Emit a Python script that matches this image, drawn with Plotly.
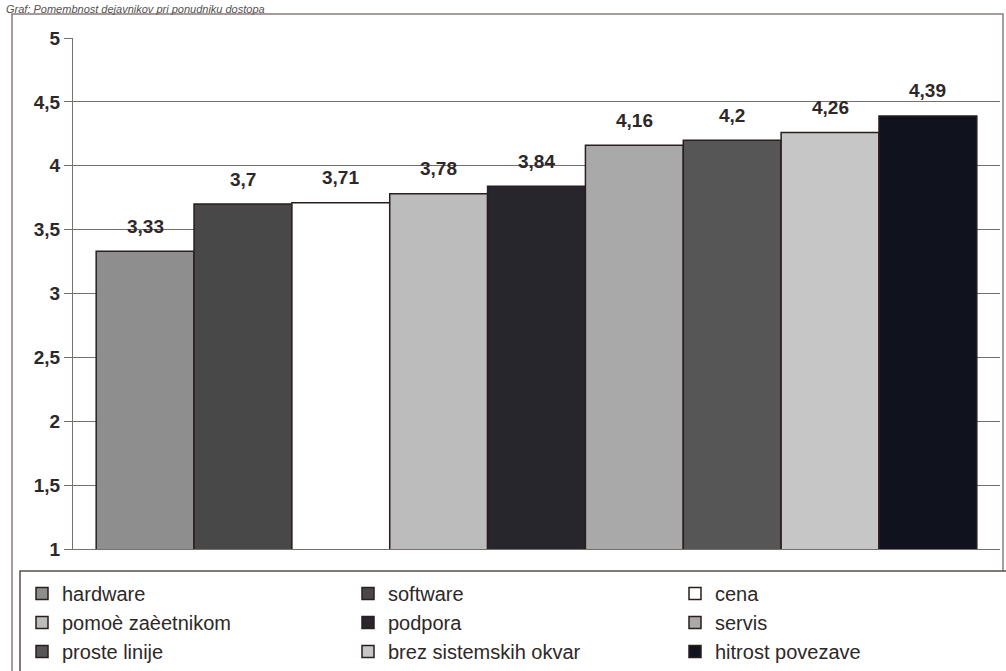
import plotly.graph_objects as go

# Ocene pomembnosti dejavnikov (lestvica 1–5)
factors = [
    "hardware", "software", "cena",
    "pomoè zaèetnikom", "podpora", "servis",
    "proste linije", "brez sistemskih okvar", "hitrost povezave",
]
scores = [3.33, 3.70, 3.71, 3.78, 3.84, 4.16, 4.20, 4.26, 4.39]
fills = [
    "#8e8e8e", "#484848", "#ffffff",
    "#bcbcbc", "#26262c", "#a9a9a9",
    "#565656", "#c6c6c6", "#10121e",
]
tick_vals = [1, 1.5, 2, 2.5, 3, 3.5, 4, 4.5, 5]
tick_text = ["1", "1,5", "2", "2,5", "3", "3,5", "4", "4,5", "5"]

W, H = 1006, 671
M_L, M_R, M_T, M_B = 73, 6, 38, 122
plot_w = W - M_L - M_R
plot_h = H - M_T - M_B
BARGAP = 0.05

FONT = "Liberation Sans, Arial, sans-serif"
LEG_FONT = "Liberation Sans Narrow, Arial Narrow, " + FONT


def px_x(x):
    return (x - M_L) / plot_w


def px_y(y):
    return (H - M_B - y) / plot_h


# legenda v treh stolpcih: vrstni red po vrsticah
legend_ids = ["legend", "legend2", "legend3"]

fig = go.Figure()
n = len(factors)
for i, (name, val, col) in enumerate(zip(factors, scores, fills)):
    fig.add_trace(go.Bar(
        x=[0], y=[val], name=name,
        marker=dict(color=col, line=dict(color="#2a1e1e", width=1.5)),
        legend=legend_ids[i % 3],
    ))
    # oznaka vrednosti nad stolpcem
    slot = (1 - BARGAP) / n
    fig.add_annotation(
        x=-(1 - BARGAP) / 2 + (i + 0.5) * slot, y=val,
        xref="x", yref="y", yanchor="middle", yshift=25,
        text=f"{val:g}".replace(".", ","), showarrow=False,
        font=dict(family=FONT, size=19, color="#2e2828", weight="bold"),
    )

leg_common = dict(
    orientation="v", xanchor="left", yanchor="top",
    y=px_y(574),
    bgcolor="rgba(0,0,0,0)", borderwidth=0,
    font=dict(family=LEG_FONT, size=20, color="#2e2828"),
    traceorder="normal", tracegroupgap=0,
)

fig.update_layout(
    width=W, height=H,
    margin=dict(l=M_L, r=M_R, t=M_T, b=M_B, autoexpand=False),
    paper_bgcolor="white", plot_bgcolor="white",
    barmode="group", bargap=BARGAP, bargroupgap=0,
    showlegend=True,
    font=dict(family=FONT, color="#2e2828"),
    xaxis=dict(range=[-0.5, 0.5], showticklabels=False, showgrid=False,
               zeroline=False, showline=True, linecolor="#7d6c6c", linewidth=1),
    yaxis=dict(range=[1, 5], tickvals=tick_vals, ticktext=tick_text,
               showgrid=True, gridcolor="#7d6c6c", gridwidth=1,
               showline=True, linecolor="#7d6c6c", linewidth=1,
               ticks="outside", ticklen=8, tickcolor="#7d6c6c",
               tickfont=dict(size=19, family=FONT, color="#2e2828", weight="bold"),
               zeroline=False),
    legend=dict(x=px_x(22), **leg_common),
    legend2=dict(x=px_x(348), **leg_common),
    legend3=dict(x=px_x(675), **leg_common),
)

# Okvir grafa
fig.add_shape(type="rect", xref="paper", yref="paper",
              x0=px_x(12), x1=px_x(1003), y0=px_y(690), y1=px_y(14),
              line=dict(color="#8a7c7c", width=1.5), fillcolor="rgba(0,0,0,0)",
              layer="below")
# Okvir legende
fig.add_shape(type="rect", xref="paper", yref="paper",
              x0=px_x(20), x1=px_x(1010), y0=px_y(690), y1=px_y(571),
              line=dict(color="#5a4e4e", width=1.5), fillcolor="white",
              layer="below")

# Naslov (zgornji rob)
fig.add_annotation(
    xref="paper", yref="paper",
    x=px_x(4), xanchor="left",
    y=px_y(1), yanchor="top",
    text="<i>Graf: Pomembnost dejavnikov pri ponudniku dostopa</i>",
    showarrow=False,
    font=dict(size=11, color="#555050", family=FONT),
)

fig.write_html("out.html")
